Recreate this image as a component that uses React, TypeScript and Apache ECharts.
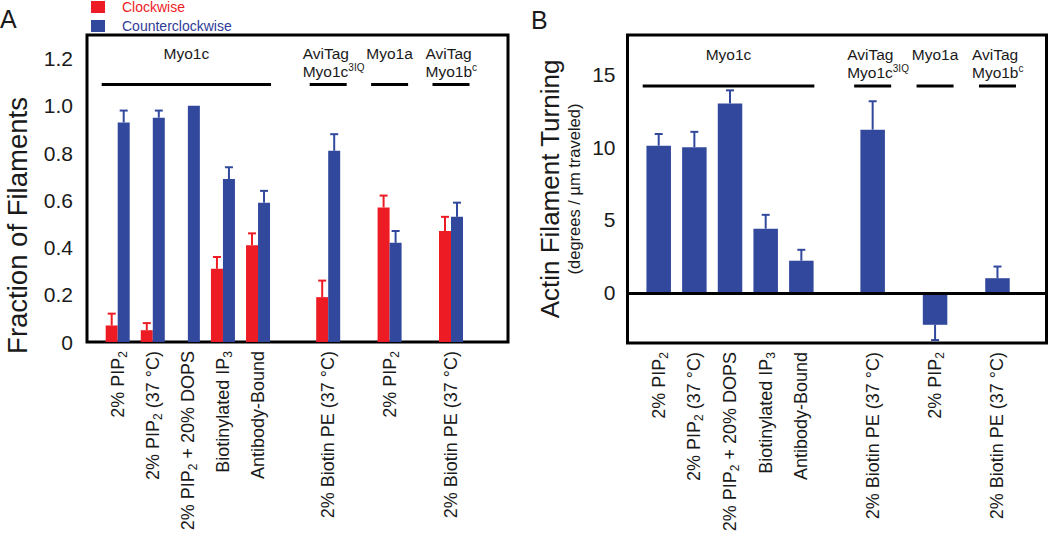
import React, { useEffect, useRef } from 'react';
import * as echarts from 'echarts';

const RED = '#ed1c24';
const BLUE = '#32489d';
const LEGEND_BLUE = '#2e3b98';
const INK = '#1a1a1a';
const FONT = '"Liberation Sans", Arial, Helvetica, sans-serif';

// Conditions (same order in both panels); "_n" marks a subscript
const conditions = [
  '2% PIP_2',
  '2% PIP_2 (37 °C)',
  '2% PIP_2 + 20% DOPS',
  'Biotinylated IP_3',
  'Antibody-Bound',
  '2% Biotin PE (37 °C)',
  '2% PIP_2',
  '2% Biotin PE (37 °C)',
];

// Panel A: fraction of filaments
const clockwise = [0.07, 0.05, 0, 0.31, 0.41, 0.19, 0.57, 0.47];
const clockwiseErr = [0.05, 0.03, null, 0.05, 0.05, 0.07, 0.05, 0.06];
const counterclockwise = [0.93, 0.95, 1.0, 0.69, 0.59, 0.81, 0.42, 0.53];
const counterclockwiseErr = [0.05, 0.03, null, 0.05, 0.05, 0.07, 0.05, 0.06];
const yTicksA = [0, 0.2, 0.4, 0.6, 0.8, 1.0, 1.2];

// Panel B: actin filament turning (degrees / µm traveled)
const turning = [10.1, 10.0, 13.0, 4.4, 2.2, 11.2, -2.2, 1.0];
const turningErr = [0.8, 1.05, 0.9, 0.95, 0.75, 1.95, 1.05, 0.8];
const yTicksB = [0, 5, 10, 15];

// Constructs spanning groups of conditions
const constructs = [
  { label: 'Myo1c', first: 0, last: 4 },
  { label: 'AviTag\nMyo1c{sup|3IQ}', first: 5, last: 5 },
  { label: 'Myo1a', first: 6, last: 6 },
  { label: 'AviTag\nMyo1b{sup|c}', first: 7, last: 7 },
];

// category slot of each condition on the fine category axis
const conditionSlots = [3, 7, 11, 15, 19, 27, 34, 41];
const slotCountA = 48;
const slotCountB = 47;

const toRich = (s: string) => s.replace(/_(\d)/g, '{sub|$1}');

function buildCategories(n: number) {
  const arr: string[] = new Array(n).fill('');
  conditionSlots.forEach((s, i) => (arr[s] = conditions[i]));
  return arr;
}
function spread(n: number, vals: (number | null)[]) {
  const arr: (number | null)[] = new Array(n).fill(null);
  conditionSlots.forEach((s, i) => (arr[s] = vals[i]));
  return arr;
}
function errData(vals: number[], errs: (number | null)[]) {
  const out: number[][] = [];
  vals.forEach((v, i) => {
    const e = errs[i];
    if (e != null) out.push([conditionSlots[i], v, e]);
  });
  return out;
}

const errorRender = (offset: number, color: string) => (params: any, api: any) => {
  const slot = api.value(0);
  const v = api.value(1);
  const e = api.value(2);
  const dir = v < 0 ? -1 : 1;
  const p0 = api.coord([slot, v]);
  const p1 = api.coord([slot, v + dir * e]);
  const x = p0[0] + offset;
  return {
    type: 'group',
    children: [
      { type: 'line', shape: { x1: x, y1: p0[1], x2: x, y2: p1[1] }, style: { stroke: color, lineWidth: 2 } },
      { type: 'line', shape: { x1: x - 4, y1: p1[1], x2: x + 4, y2: p1[1] }, style: { stroke: color, lineWidth: 2 } },
    ],
  };
};

const annotationRender = (params: any, api: any) => {
  const c = constructs[params.dataIndex];
  const a = api.coord([api.value(0), api.value(2)]);
  const b = api.coord([api.value(1), api.value(2)]);
  let x1: number, x2: number;
  if (c.first === c.last) {
    x1 = a[0] - 18.5;
    x2 = a[0] + 18.5;
  } else {
    x1 = a[0] - 16;
    x2 = b[0] + 13;
  }
  const multi = c.label.indexOf('\n') >= 0;
  return {
    type: 'group',
    children: [
      { type: 'line', shape: { x1, y1: a[1], x2, y2: a[1] }, style: { stroke: '#000', lineWidth: 3 } },
      {
        type: 'text',
        x: multi ? x1 - 7 : (x1 + x2) / 2,
        y: a[1] - 40,
        style: {
          text: c.label,
          fill: INK,
          fontSize: 15.5,
          fontFamily: FONT,
          lineHeight: 18,
          align: multi ? 'left' : 'center',
          verticalAlign: 'top',
          rich: {
            sup: { fontSize: 10, fontFamily: FONT, fill: INK, verticalAlign: 'top', lineHeight: 12 },
          },
        },
      },
    ],
  };
};

function annotationData(lineY: number) {
  return constructs.map((c) => [conditionSlots[c.first], conditionSlots[c.last], lineY]);
}

const xLabel = {
  interval: 0,
  rotate: 90,
  margin: 9,
  fontSize: 18,
  lineHeight: 22,
  color: INK,
  fontFamily: FONT,
  formatter: (v: string) => toRich(v),
  rich: { sub: { fontSize: 12, lineHeight: 12, verticalAlign: 'bottom', fontFamily: FONT, color: INK } },
};

const tickStyle = { inside: true, length: 9, lineStyle: { color: '#000', width: 2.5 } };

export default function App() {
  const ref = useRef<HTMLDivElement>(null);
  useEffect(() => {
    if (!ref.current) return;
    const chart = echarts.init(ref.current, null, { renderer: 'svg' });
    const catsA = buildCategories(slotCountA);
    const catsB = buildCategories(slotCountB);
    const option: any = {
      animation: false,
      textStyle: { fontFamily: FONT },
      graphic: [
        { type: 'text', left: 0, top: 6, style: { text: 'A', fontSize: 25, fontFamily: FONT, fill: INK } },
        { type: 'text', left: 531, top: 7, style: { text: 'B', fontSize: 25, fontFamily: FONT, fill: INK } },
      ],
      legend: {
        orient: 'vertical',
        left: 91,
        top: 0,
        padding: 0,
        itemWidth: 14,
        itemHeight: 12,
        itemGap: 5,
        icon: 'rect',
        textStyle: { fontSize: 14, fontFamily: FONT, padding: [0, 0, 0, 12] },
        data: [
          { name: 'Clockwise', textStyle: { color: RED } },
          { name: 'Counterclockwise', textStyle: { color: LEGEND_BLUE } },
        ],
      },
      grid: [
        { left: 87, top: 35, width: 421, height: 307, show: true, borderColor: '#000', borderWidth: 3, backgroundColor: 'transparent' },
        { left: 627.5, top: 35, width: 419, height: 308, show: true, borderColor: '#000', borderWidth: 3, backgroundColor: 'transparent' },
      ],
      xAxis: [
        { type: 'category', gridIndex: 0, data: catsA, axisLine: { show: false }, axisTick: { show: false }, axisLabel: xLabel },
        { type: 'category', gridIndex: 1, data: catsB, axisLine: { show: false, onZero: false }, axisTick: { show: false }, axisLabel: xLabel },
      ],
      yAxis: [
        {
          type: 'value', gridIndex: 0, min: 0, max: 1.3, position: 'left',
          axisLine: { show: false }, splitLine: { show: false },
          axisTick: { ...tickStyle, customValues: yTicksA },
          axisLabel: {
            customValues: yTicksA, fontSize: 21, color: INK, margin: 14, fontFamily: FONT,
            formatter: (v: number) => (v === 0 ? '0' : v.toFixed(1)),
          },
          name: 'Fraction of Filaments', nameLocation: 'middle', nameGap: 56,
          nameTextStyle: { fontSize: 27.5, color: INK, fontFamily: FONT, padding: [0, 74, 0, 0] },
        },
        {
          type: 'value', gridIndex: 0, min: 0, max: 1.3, position: 'right',
          axisLine: { show: false }, splitLine: { show: false },
          axisTick: { ...tickStyle, customValues: yTicksA },
          axisLabel: { show: false },
        },
        {
          type: 'value', gridIndex: 1, min: -3.45, max: 17.7, position: 'left',
          axisLine: { show: false }, splitLine: { show: false },
          axisTick: { ...tickStyle, customValues: yTicksB },
          axisLabel: { customValues: yTicksB, fontSize: 21, color: INK, margin: 12, fontFamily: FONT },
          name: '{a|Actin Filament Turning}\n{b|(degrees / µm traveled)}',
          nameLocation: 'middle', nameGap: 44,
          nameTextStyle: {
            color: INK, fontFamily: FONT,
            rich: {
              a: { fontSize: 26, lineHeight: 30, color: INK, fontFamily: FONT },
              b: { fontSize: 16.5, lineHeight: 19, color: INK, fontFamily: FONT },
            },
          },
        },
        {
          type: 'value', gridIndex: 1, min: -3.45, max: 17.7, position: 'right',
          axisLine: { show: false }, splitLine: { show: false },
          axisTick: { ...tickStyle, customValues: yTicksB },
          axisLabel: { show: false },
        },
      ],
      series: [
        {
          name: 'Clockwise', type: 'bar', xAxisIndex: 0, yAxisIndex: 0,
          data: spread(slotCountA, clockwise), barWidth: 12, barGap: '0%',
          itemStyle: { color: RED },
        },
        {
          name: 'Counterclockwise', type: 'bar', xAxisIndex: 0, yAxisIndex: 0,
          data: spread(slotCountA, counterclockwise), barWidth: 12, barGap: '0%',
          itemStyle: { color: BLUE },
        },
        {
          type: 'custom', xAxisIndex: 0, yAxisIndex: 0, encode: { x: 0, y: 1 },
          data: errData(clockwise, clockwiseErr), renderItem: errorRender(-6, RED), z: 3,
        },
        {
          type: 'custom', xAxisIndex: 0, yAxisIndex: 0, encode: { x: 0, y: 1 },
          data: errData(counterclockwise, counterclockwiseErr), renderItem: errorRender(6, BLUE), z: 3,
        },
        {
          type: 'custom', xAxisIndex: 0, yAxisIndex: 0, encode: { x: 0, y: 2 },
          data: annotationData(1.09), renderItem: annotationRender, z: 4,
        },
        {
          name: 'Actin Filament Turning', type: 'bar', xAxisIndex: 1, yAxisIndex: 2,
          data: spread(slotCountB, turning), barWidth: 24.5,
          itemStyle: { color: BLUE },
          markLine: {
            silent: true, symbol: 'none', label: { show: false },
            lineStyle: { color: '#000', width: 3, type: 'solid' },
            data: [{ yAxis: 0 }],
          },
        },
        {
          type: 'custom', xAxisIndex: 1, yAxisIndex: 2, encode: { x: 0, y: 1 },
          data: errData(turning, turningErr), renderItem: errorRender(0, BLUE), z: 3,
        },
        {
          type: 'custom', xAxisIndex: 1, yAxisIndex: 2, encode: { x: 0, y: 2 },
          data: annotationData(14.2), renderItem: annotationRender, z: 4,
        },
      ],
    };
    chart.setOption(option);
    return () => chart.dispose();
  }, []);
  return (
    <div
      ref={ref}
      style={{ position: 'fixed', left: 0, top: 0, width: 1050, height: 537, background: '#fff' }}
    />
  );
}
